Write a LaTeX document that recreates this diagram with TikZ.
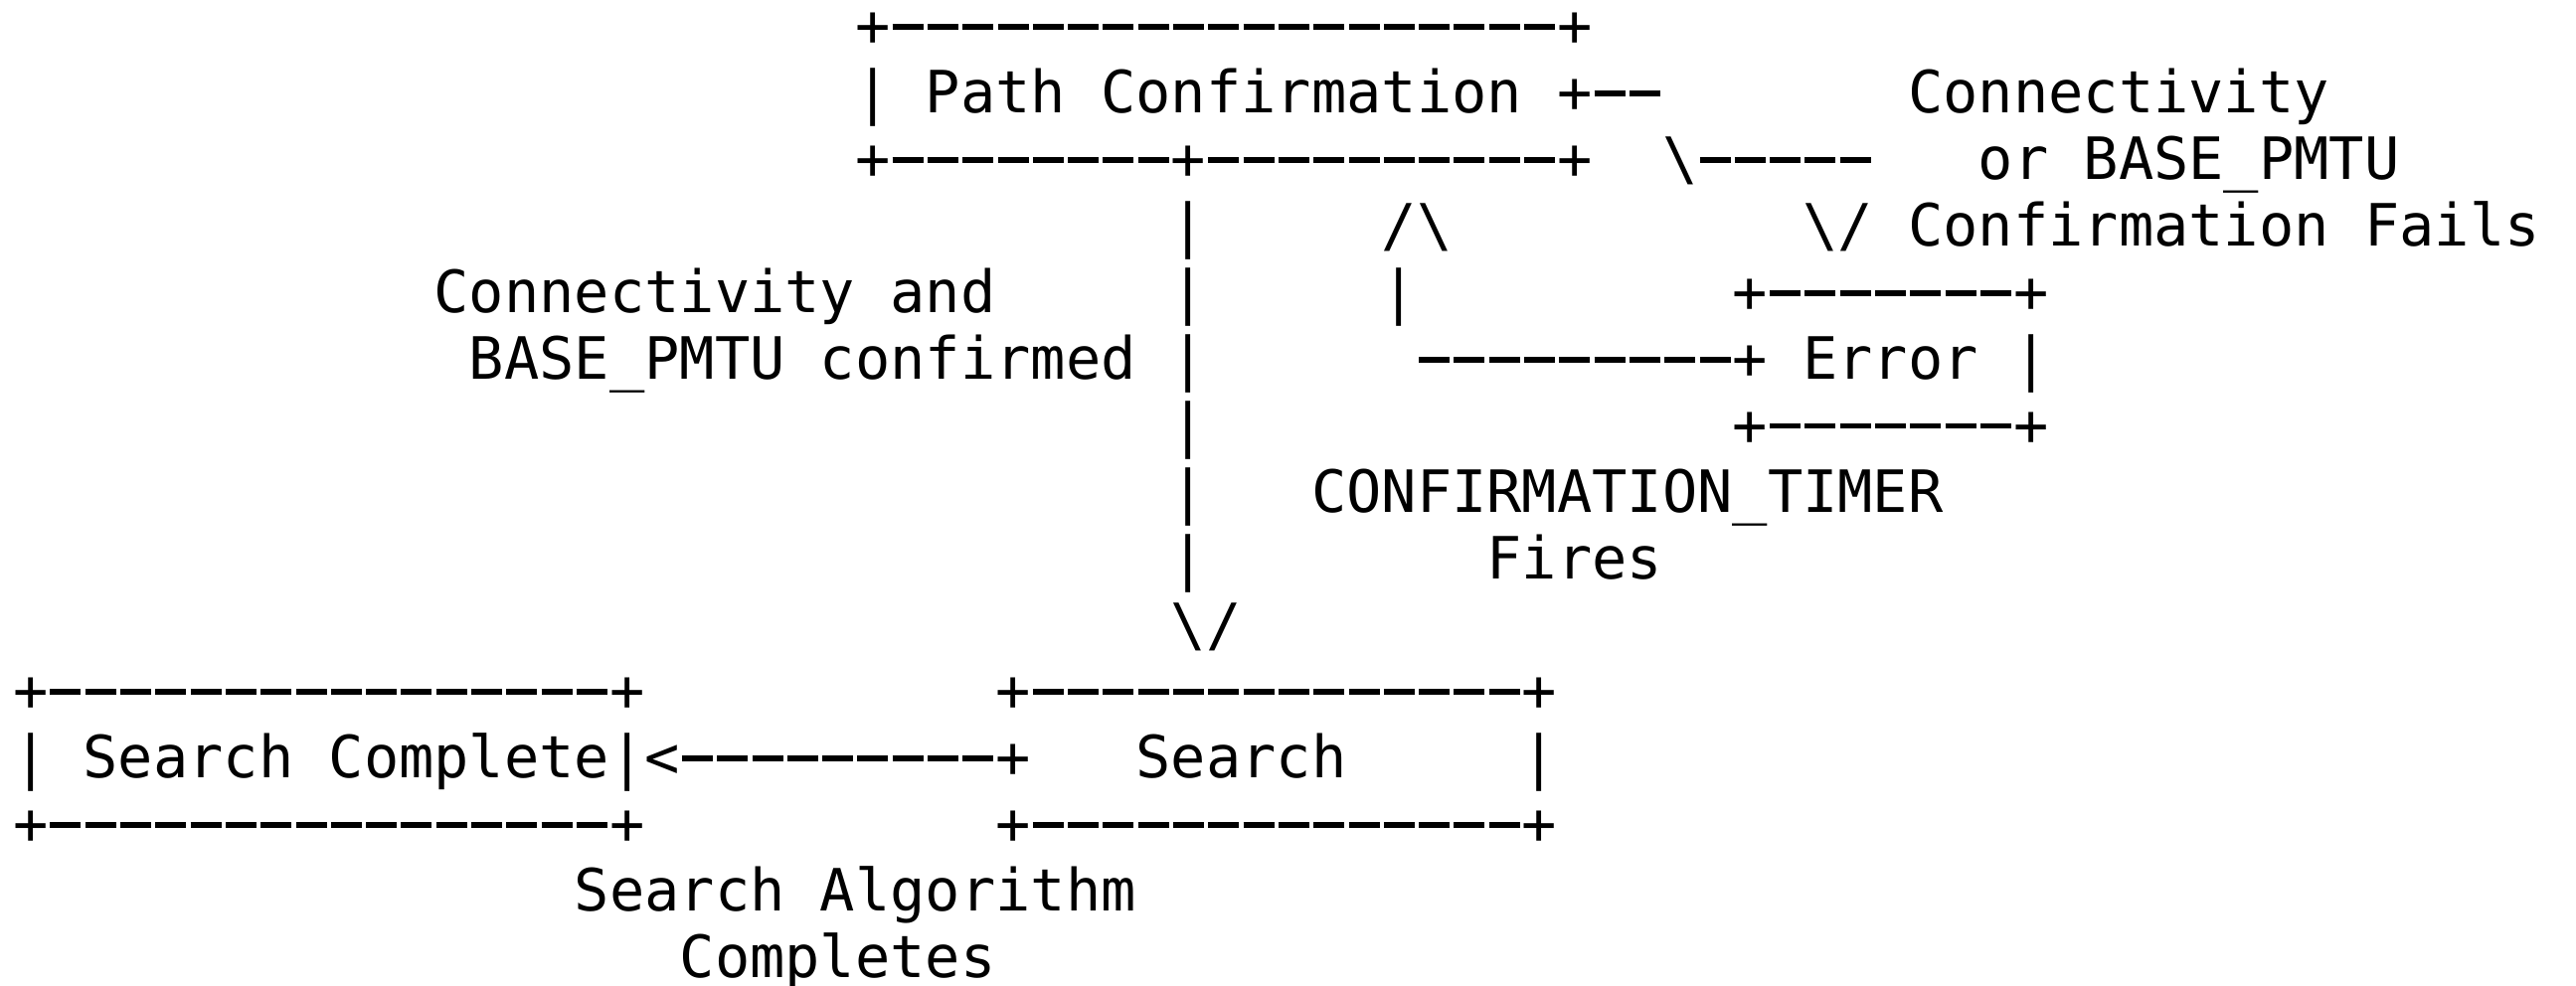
\documentclass[tikz,border=0pt]{standalone}
\usepackage{fontspec}
\setmonofont{DejaVu Sans Mono}
% character grid: cell width 35.3px, line pitch 66.9px, 1px = 0.25pt
\newcommand\gx[1]{13+#1*35.3}
\newcommand\gy[1]{47+(#1-1)*66.9}
\newcommand\cell[4]{\node[ascii] (#1) at ({\gx{#2}},{\gy{#3}}) {#4};}
% one heavy dash filling a character cell, and a run of them
\newcommand\dsh{\makebox[8.825pt][l]{\hspace{0.53pt}\rule[4.24pt]{7.75pt}{1.43pt}}}
\ExplSyntaxOn
\cs_new:Npn \dashes #1 { \prg_replicate:nn {#1} { \dsh } }
\ExplSyntaxOff
\tikzset{ascii/.style={anchor=base west, inner sep=0pt, outer sep=0pt,
  font=\ttfamily\fontsize{14.66pt}{16pt}\selectfont}}
\begin{document}
\begin{tikzpicture}[x=0.25pt,y=-0.25pt]
\fill[white] (0,0) rectangle (2591,992);
\useasboundingbox (0,0) rectangle (2591,992);
% Path Confirmation box
\cell{pcTop}{24}{1}{+\dashes{19}+}
\cell{pcMid}{24}{2}{| Path Confirmation +\dashes{2}}
\cell{pcBot}{24}{3}{+\dashes{8}+\dashes{10}+}
% failure branch to Error
\cell{failA}{54}{2}{Connectivity}
\cell{failBend}{47}{3}{\textbackslash\dashes{5}}
\cell{failB}{56}{3}{or BASE\_PMTU}
\cell{failHead}{51}{4}{\textbackslash/ Confirmation Fails}
% main downward connector
\cell{down4}{33}{4}{|}
\cell{down5}{33}{5}{|}
\cell{okLabelA}{12}{5}{Connectivity and}
\cell{okLabelB}{13}{6}{BASE\_PMTU confirmed |}
\cell{down7}{33}{7}{|}
\cell{down8}{33}{8}{|}
\cell{down9}{33}{9}{|}
\cell{downHead}{33}{10}{\textbackslash/}
% timer branch back to Path Confirmation
\cell{upHead}{39}{4}{/\textbackslash}
\cell{up5}{39}{5}{|}
\cell{timerLine}{40}{6}{\dashes{9}+ Error |}
\cell{errTop}{49}{5}{+\dashes{7}+}
\cell{errBot}{49}{7}{+\dashes{7}+}
\cell{timerA}{37}{8}{CONFIRMATION\_TIMER}
\cell{timerB}{42}{9}{Fires}
% Search and Search Complete boxes
\cell{scTop}{0}{11}{+\dashes{16}+}
\cell{scMid}{0}{12}{| Search Complete|<\dashes{9}+}
\cell{scBot}{0}{13}{+\dashes{16}+}
\cell{sTop}{28}{11}{+\dashes{14}+}
\cell{sText}{32}{12}{Search}
\cell{sRight}{43}{12}{|}
\cell{sBot}{28}{13}{+\dashes{14}+}
\cell{doneA}{16}{14}{Search Algorithm}
\cell{doneB}{19}{15}{Completes}
\end{tikzpicture}
\end{document}
